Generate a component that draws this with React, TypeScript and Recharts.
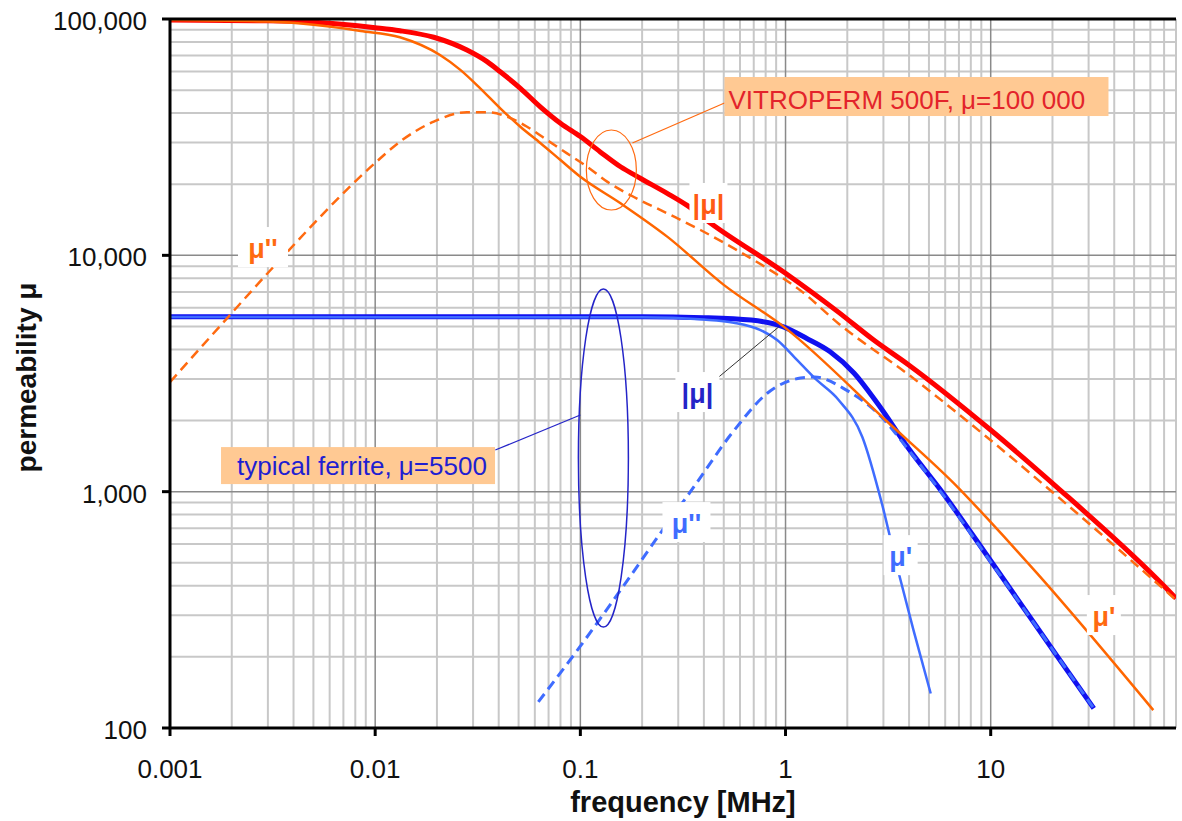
import React from 'react';
import {
  ComposedChart,
  Line,
  XAxis,
  YAxis,
  ReferenceLine,
  ReferenceDot,
} from 'recharts';

const FONT = "'Liberation Sans', Arial, Helvetica, sans-serif";

// frequency in MHz, permeability
// VITROPERM 500F, |mu|
const vitroMagFreq = [0.001, 0.003, 0.005, 0.01, 0.0132, 0.0193, 0.028, 0.0351, 0.0407, 0.051, 0.0638, 0.08, 0.1, 0.125, 0.157, 0.196, 0.265, 0.33, 0.43, 1.0, 1.81, 2.69, 4.0, 10, 21, 64, 80];
const vitroMagMu = [99000, 98200, 96800, 91800, 89200, 83700, 73900, 66000, 59800, 50900, 42500, 36200, 31800, 27400, 23700, 21200, 18300, 16300, 13700, 8400, 5750, 4380, 3430, 1823, 1046, 431, 354];

// VITROPERM 500F, mu'
const vitroRealFreq = [0.001, 0.003, 0.005, 0.0085, 0.0132, 0.0207, 0.026, 0.0325, 0.0407, 0.051, 0.064, 0.08, 0.1, 0.157, 0.265, 0.5, 1.0, 3.07, 6.9, 10, 16.8, 62];
const vitroRealMu = [99000, 97500, 94500, 89000, 83700, 70400, 60900, 50900, 41900, 35000, 29800, 25300, 21500, 16600, 12000, 7500, 4920, 2010, 1046, 743, 452, 119];

// VITROPERM 500F, mu''
const vitroImagFreq = [0.001, 0.00192, 0.00318, 0.01, 0.0132, 0.0193, 0.028, 0.0351, 0.0439, 0.055, 0.0688, 0.0861, 0.108, 0.135, 0.1815, 0.265, 0.385, 0.56, 0.817, 1.183, 1.81, 4.03, 10, 21, 80];
const vitroImagMu = [2910, 5480, 8900, 24600, 30250, 36800, 40300, 40300, 38600, 35000, 30750, 27000, 23700, 20500, 17700, 15060, 12800, 10700, 8800, 7100, 5150, 3100, 1650, 960, 348];

// typical ferrite, |mu|
const ferriteMagFreq = [0.001, 0.2, 0.4, 0.68, 0.97, 1.27, 1.65, 2.16, 2.81, 4.03, 5.7, 10, 21.2, 31.8];
const ferriteMagMu = [5500, 5500, 5450, 5320, 4990, 4450, 3910, 3170, 2360, 1500, 1016, 510, 200, 121];

// typical ferrite, mu'
const ferriteRealFreq = [0.001, 0.2, 0.4, 0.56, 0.755, 0.91, 1.1, 1.4, 1.81, 2.37, 2.94, 3.5, 4.2, 5.1];
const ferriteRealMu = [5480, 5470, 5350, 5190, 4830, 4380, 3720, 3000, 2450, 1700, 900, 480, 260, 140];

// typical ferrite, mu''
const ferriteImagFreq = [0.0624, 0.1, 0.157, 0.266, 0.344, 0.557, 0.817, 1.183, 1.385, 1.98, 2.81, 4.03, 5.7, 10, 21.2, 31.8];
const ferriteImagMu = [129, 222, 383, 736, 1000, 1800, 2614, 3025, 3055, 2690, 2150, 1480, 1000, 505, 200, 121];

const xTicks = [0.001, 0.01, 0.1, 1, 10];
const yTicks = [100, 1000, 10000, 100000];
const minorSteps = [2, 3, 4, 5, 6, 7, 8, 9];
const xMajor = [0.01, 0.1, 1, 10];
const yMajor = [1000, 10000];

const xMinor = xTicks
  .flatMap((d) => minorSteps.map((k) => Number((d * k).toPrecision(2))))
  .filter((v) => v <= 80);
const yMinor = [100, 1000, 10000].flatMap((d) => minorSteps.map((k) => d * k));

const pts = (freq: number[], mu: number[]) => freq.map((f, i) => ({ f, mu: mu[i] }));

const ORANGE = '#ff6a10';
const BLUE_DARK = '#2424c8';
const BLUE_LIGHT = '#3f6cff';

// small curve labels on white background
const curveLabels = [
  { text: "μ''", f: 0.00284, mu: 9740, color: ORANGE, w: 50 },
  { text: '|μ|', f: 0.421, mu: 14960, color: '#ff5a14', w: 38 },
  { text: '|μ|', f: 0.372, mu: 2371, color: BLUE_DARK, w: 44 },
  { text: "μ''", f: 0.329, mu: 668, color: BLUE_LIGHT, w: 48 },
  { text: "μ'", f: 3.64, mu: 484, color: BLUE_LIGHT, w: 34 },
  { text: "μ'", f: 35.6, mu: 270, color: ORANGE, w: 34 },
];

const XTick = (p: any) => (
  <text x={p.x} y={p.y + 42} textAnchor="middle" fontSize={26} fill="#111" fontFamily={FONT}>
    {String(p.payload.value)}
  </text>
);

const YTick = (p: any) => (
  <text x={p.x - 15} y={p.y + 11} textAnchor="end" fontSize={26} fill="#111" fontFamily={FONT}>
    {Number(p.payload.value).toLocaleString('en-US')}
  </text>
);

const XTitle = (p: any) => {
  const vb = p.viewBox || { x: 170, width: 1006, y: 728 };
  return (
    <text
      x={vb.x + vb.width / 2 + 10}
      y={812}
      textAnchor="middle"
      fontSize={29}
      fontWeight="bold"
      fill="#111"
      fontFamily={FONT}
    >
      frequency [MHz]
    </text>
  );
};

const YTitle = (p: any) => {
  const vb = p.viewBox || { y: 19, height: 709 };
  const cy = vb.y + vb.height / 2 + 4;
  return (
    <text
      x={36}
      y={cy}
      transform={`rotate(-90, 36, ${cy})`}
      textAnchor="middle"
      fontSize={28}
      fontWeight="bold"
      fill="#111"
      fontFamily={FONT}
    >
      permeability  μ
    </text>
  );
};

export default function App() {
  return (
    <div style={{ position: 'absolute', left: 0, top: 0, width: 1182, height: 821, fontFamily: FONT }}>
      <style>{'html, body { margin: 0; overflow: hidden; }'}</style>
      <ComposedChart width={1182} height={821} margin={{ top: 19, right: 6, bottom: 3, left: 10 }}>
        <XAxis
          type="number"
          dataKey="f"
          scale="log"
          domain={[0.001, 80]}
          allowDataOverflow
          ticks={xTicks}
          interval={0}
          height={90}
          tickSize={8}
          tickMargin={0}
          axisLine={{ stroke: '#000', strokeWidth: 3 }}
          tickLine={{ stroke: '#000', strokeWidth: 3 }}
          tick={XTick}
          label={XTitle}
        />
        <YAxis
          type="number"
          dataKey="mu"
          scale="log"
          domain={[100, 100000]}
          allowDataOverflow
          ticks={yTicks}
          interval={0}
          width={160}
          tickSize={8}
          tickMargin={0}
          axisLine={{ stroke: '#000', strokeWidth: 3 }}
          tickLine={{ stroke: '#000', strokeWidth: 3 }}
          tick={YTick}
          label={YTitle}
        />

        {/* log grid */}
        {xMinor.map((v) => (
          <ReferenceLine key={'xm' + v} x={v} stroke="#c8c8c8" strokeWidth={2} zIndex={-100} />
        ))}
        {yMinor.map((v) => (
          <ReferenceLine key={'ym' + v} y={v} stroke="#c8c8c8" strokeWidth={2} zIndex={-100} />
        ))}
        {xMajor.map((v) => (
          <ReferenceLine key={'xM' + v} x={v} stroke="#8a8a8a" strokeWidth={1.5} zIndex={-90} />
        ))}
        {yMajor.map((v) => (
          <ReferenceLine key={'yM' + v} y={v} stroke="#8a8a8a" strokeWidth={1.5} zIndex={-90} />
        ))}
        <ReferenceLine y={100000} stroke="#000" strokeWidth={3} zIndex={600} />

        {/* ferrite */}
        <Line data={pts(ferriteMagFreq, ferriteMagMu)} dataKey="mu" type="monotone" stroke="#1010f0" strokeWidth={5} dot={false} isAnimationActive={false} />
        <Line data={pts(ferriteRealFreq, ferriteRealMu)} dataKey="mu" type="monotone" stroke={BLUE_LIGHT} strokeWidth={2.5} dot={false} isAnimationActive={false} />
        <Line data={pts(ferriteImagFreq, ferriteImagMu)} dataKey="mu" type="monotone" stroke={BLUE_LIGHT} strokeWidth={3} strokeDasharray="10 6" dot={false} isAnimationActive={false} />

        {/* VITROPERM */}
        <Line data={pts(vitroMagFreq, vitroMagMu)} dataKey="mu" type="monotone" stroke="#ff0000" strokeWidth={5} dot={false} isAnimationActive={false} />
        <Line data={pts(vitroRealFreq, vitroRealMu)} dataKey="mu" type="monotone" stroke="#ff6600" strokeWidth={2.5} dot={false} isAnimationActive={false} />
        <Line data={pts(vitroImagFreq, vitroImagMu)} dataKey="mu" type="monotone" stroke={ORANGE} strokeWidth={2.5} strokeDasharray="10 6" dot={false} isAnimationActive={false} />

        {/* annotations */}
        <ReferenceLine
          segment={[{ x: 0.504, y: 44110 }, { x: 0.1794, y: 29870 }]}
          stroke={ORANGE}
          strokeWidth={1.2}
          ifOverflow="visible"
          zIndex={1500}
        />
        <ReferenceLine
          segment={[{ x: 0.0385, y: 1500 }, { x: 0.1, y: 2110 }]}
          stroke={BLUE_DARK}
          strokeWidth={1.2}
          ifOverflow="visible"
          zIndex={1500}
        />
        <ReferenceLine
          segment={[{ x: 0.466, y: 3025 }, { x: 0.925, y: 4972 }]}
          stroke="#333"
          strokeWidth={1}
          ifOverflow="visible"
          zIndex={1500}
        />
        <ReferenceDot
          x={0.1416}
          y={22960}
          r={1}
          ifOverflow="visible"
          zIndex={1500}
          shape={(p: any) => <ellipse cx={p.cx} cy={p.cy} rx={25} ry={40} fill="none" stroke={ORANGE} strokeWidth={1.2} />}
        />
        <ReferenceDot
          x={0.1295}
          y={1388}
          r={1}
          ifOverflow="visible"
          zIndex={1500}
          shape={(p: any) => <ellipse cx={p.cx} cy={p.cy} rx={25} ry={169} fill="none" stroke={BLUE_DARK} strokeWidth={1.5} />}
        />
        <ReferenceDot
          x={0.504}
          y={56820}
          r={1}
          ifOverflow="visible"
          zIndex={2000}
          shape={(p: any) => (
            <g>
              <rect x={p.cx} y={p.cy} width={384} height={39} fill="#ffc993" />
              <text x={p.cx + 4} y={p.cy + 32} fontSize={26} fill="#e3242b" fontFamily={FONT}>
                VITROPERM 500F, μ=100 000
              </text>
            </g>
          )}
        />
        <ReferenceDot
          x={0.001773}
          y={1544}
          r={1}
          ifOverflow="visible"
          zIndex={2000}
          shape={(p: any) => (
            <g>
              <rect x={p.cx} y={p.cy} width={274} height={37} fill="#ffc993" />
              <text x={p.cx + 16} y={p.cy + 28} fontSize={26} fill="#1f1fd1" fontFamily={FONT}>
                typical ferrite, μ=5500
              </text>
            </g>
          )}
        />
        {curveLabels.map((l, i) => (
          <ReferenceDot
            key={'lbl' + i}
            x={l.f}
            y={l.mu}
            r={1}
            ifOverflow="visible"
            zIndex={2000}
            shape={(p: any) => (
              <g>
                <rect x={p.cx - l.w / 2} y={p.cy - 31} width={l.w} height={40} fill="#fff" />
                <text x={p.cx} y={p.cy} textAnchor="middle" fontSize={27} fontWeight="bold" fill={l.color} fontFamily={FONT}>
                  {l.text}
                </text>
              </g>
            )}
          />
        ))}
      </ComposedChart>
    </div>
  );
}
